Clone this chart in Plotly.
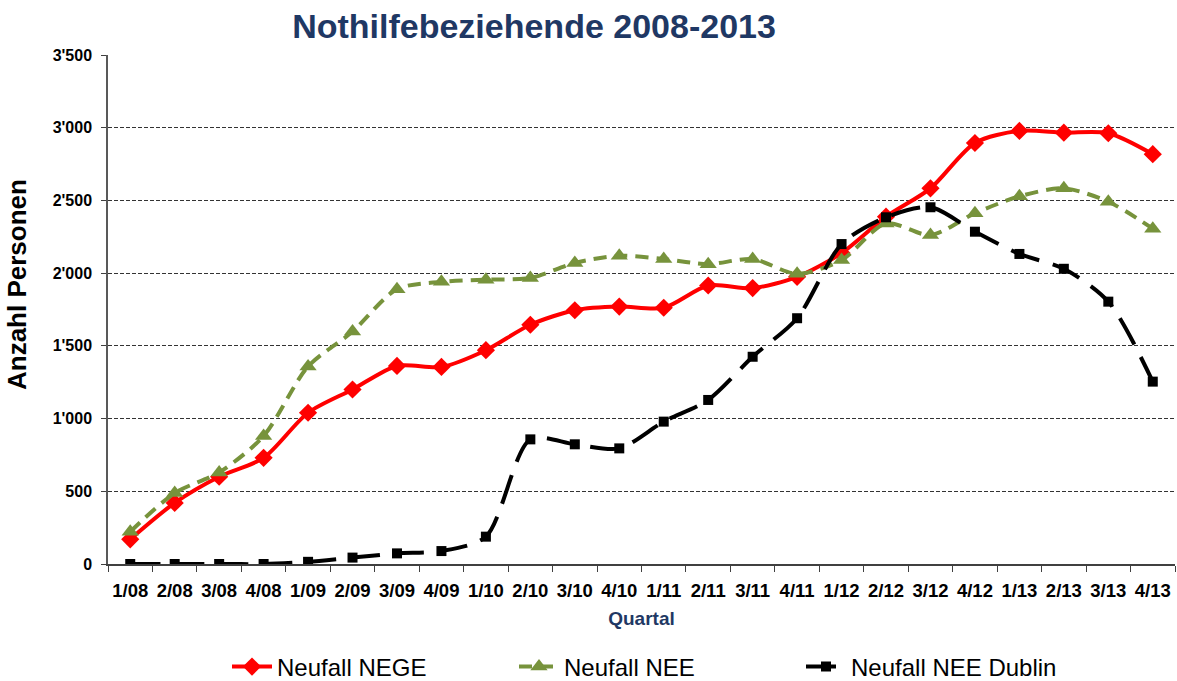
import plotly.graph_objects as go

quarters = ["1/08", "2/08", "3/08", "4/08", "1/09", "2/09", "3/09", "4/09",
            "1/10", "2/10", "3/10", "4/10", "1/11", "2/11", "3/11", "4/11",
            "1/12", "2/12", "3/12", "4/12", "1/13", "2/13", "3/13", "4/13"]

nege = [170, 420, 600, 730, 1040, 1200, 1362, 1355, 1470, 1645, 1745, 1770,
        1762, 1915, 1897, 1975, 2138, 2388, 2583, 2895, 2978, 2966, 2962, 2818]

nee = [222, 488, 630, 880, 1358, 1598, 1890, 1940, 1955, 1967, 2070, 2119,
       2097, 2062, 2097, 1995, 2090, 2342, 2262, 2412, 2528, 2583, 2491, 2306]

dublin = [0, 0, 0, 0, 15, 44, 73, 89, 188, 857, 823, 795,
          979, 1128, 1425, 1690, 2200, 2384, 2453, 2285, 2132, 2030, 1804, 1254]

FONT = "Liberation Sans, Arial, sans-serif"
NAVY = "#1F3864"

W, H = 1177, 681
ML, MR, MT, MB = 108, 2, 55, 117
PW, PH = W - ML - MR, H - MT - MB

fig = go.Figure()
fig.add_trace(go.Scatter(
    x=quarters, y=nege, name="Neufall NEGE", mode="lines+markers",
    line=dict(color="#FF0000", width=4, shape="spline", smoothing=0.8),
    marker=dict(symbol="diamond", size=14, color="#FF0000"),
))
fig.add_trace(go.Scatter(
    x=quarters, y=nee, name="Neufall NEE", mode="lines+markers",
    line=dict(color="#77933C", width=4, shape="spline", smoothing=0.8, dash="13px,8px"),
    marker=dict(symbol="triangle-up", size=15, color="#77933C"),
))
fig.add_trace(go.Scatter(
    x=quarters, y=dublin, name="Neufall NEE Dublin", mode="lines+markers",
    line=dict(color="#000000", width=4, shape="spline", smoothing=0.8, dash="30px,14px"),
    marker=dict(symbol="square", size=10, color="#000000"),
))

fig.update_layout(
    width=W, height=H,
    margin=dict(l=ML, r=MR, t=MT, b=MB, autoexpand=False),
    paper_bgcolor="white", plot_bgcolor="white",
    separators=".'",
    font=dict(family=FONT, color="black"),
    title=dict(text="<b>Nothilfebeziehende 2008-2013</b>", x=534 / W, xanchor="center",
               xref="container", yref="container",
               y=1 - 26 / H, yanchor="middle",
               font=dict(family=FONT, size=34, color=NAVY)),
    showlegend=True,
    legend=dict(orientation="h", xref="container", yref="container",
                x=227 / W, xanchor="left", y=1 - 667 / H, yanchor="middle",
                font=dict(family=FONT, size=24, color="black"),
                entrywidth=232, entrywidthmode="pixels", itemwidth=40,
                traceorder="normal", bgcolor="rgba(0,0,0,0)"),
    annotations=[dict(
        text="<b>Anzahl Personen</b>", textangle=-90,
        xref="paper", yref="paper",
        x=(17 - ML) / PW, y=(H - MB - 285) / PH,
        xanchor="center", yanchor="middle", showarrow=False,
        font=dict(family=FONT, size=26, color="black"),
    )],
)

fig.update_xaxes(
    type="category", range=[-0.5, 23.5], automargin=False,
    showline=True, linecolor="#404040", linewidth=1.5,
    ticks="outside", tickson="boundaries", ticklen=6, tickcolor="#404040",
    tickfont=dict(family=FONT, size=18.5, color="black", weight="bold"),
    tickangle=0, ticklabelstandoff=9,
    showgrid=False,
    title=dict(text="<b>Quartal</b>", font=dict(family=FONT, size=19, color=NAVY), standoff=12),
)
fig.update_yaxes(
    range=[0, 3500], tickvals=[0, 500, 1000, 1500, 2000, 2500, 3000, 3500],
    tickformat=",d", automargin=False,
    showline=True, linecolor="#595959", linewidth=1.5,
    ticks="outside", ticklen=5, tickcolor="#404040",
    tickfont=dict(family=FONT, size=16, color="black", weight="bold"),
    ticklabelstandoff=6,
    showgrid=True, gridcolor="#333333", gridwidth=1, griddash="4px,2px",
    zeroline=False,
)

fig.write_html("out.html", config={"displayModeBar": False},
               post_script="document.body.style.margin='0';document.body.style.overflow='hidden';")
